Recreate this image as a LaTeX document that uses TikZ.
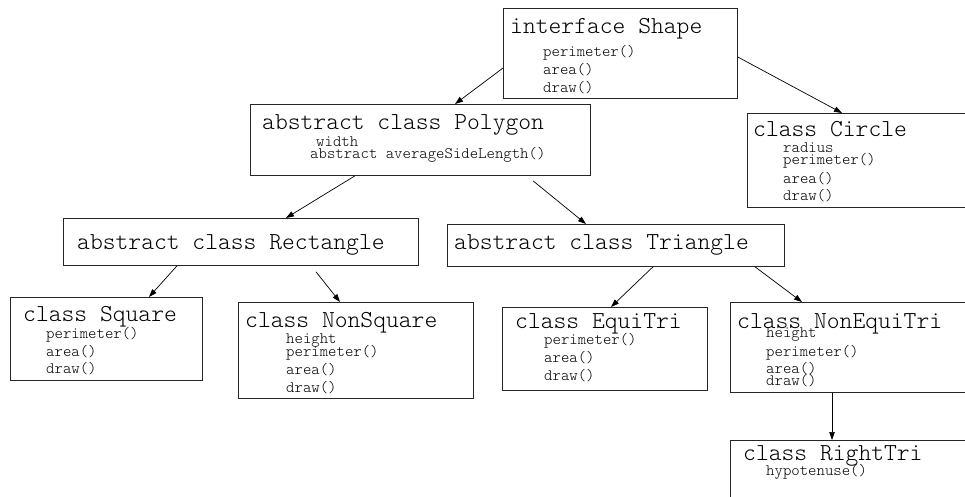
\documentclass[tikz,border=0pt]{standalone}
\usetikzlibrary{arrows.meta}
\begin{document}
\begin{tikzpicture}[x=1pt,y=-1pt,
  box/.style={draw=black!85, line width=0.8pt, rectangle, inner sep=0pt, anchor=north west},
  ttl/.style={inner sep=0pt, anchor=base west, font=\ttfamily\fontseries{l}\fontsize{24.4}{26}\selectfont},
  mth/.style={inner sep=0pt, anchor=base west, font=\ttfamily\fontseries{l}\fontsize{16}{18}\selectfont},
  arr/.style={draw=black, line width=0.7pt, -{Triangle[length=8pt,width=5.5pt]}}]
\clip (0,0) rectangle (965,496);
\fill[white] (0,0) rectangle (965,496);
% boxes
\node[box, minimum width=234pt, minimum height=90pt] (shape) at (503,8) {};
\node[box, minimum width=340pt, minimum height=71pt] (poly) at (250,104) {};
\node[box, minimum width=240pt, minimum height=94pt] (circle) at (747,113) {};
\node[box, minimum width=355pt, minimum height=47pt] (rect) at (63,218) {};
\node[box, minimum width=337pt, minimum height=42pt] (tri) at (447,224) {};
\node[box, minimum width=192pt, minimum height=83pt] (square) at (10,297) {};
\node[box, minimum width=235pt, minimum height=96pt] (nonsq) at (238,302) {};
\node[box, minimum width=205pt, minimum height=83pt] (equi) at (502,307) {};
\node[box, minimum width=250pt, minimum height=90pt] (nonequi) at (730,302) {};
\node[box, minimum width=250pt, minimum height=80pt] (right) at (730,440) {};
% texts
\node[ttl] (shapeT) at (510,33) {interface Shape};
\node[mth] (shapeA) at (543,56) {perimeter()};
\node[mth] (shapeB) at (543,74) {area()};
\node[mth] (shapeC) at (543,92) {draw()};
\node[ttl] (polyT) at (262,129) {abstract class Polygon};
\node[mth] (polyA) at (316,146) {width};
\node[mth] (polyB) at (310,158) {abstract averageSideLength()};
\node[ttl] (circleT) at (753,136) {class Circle};
\node[mth] (circleA) at (783,152) {radius};
\node[mth] (circleB) at (783,164) {perimeter()};
\node[mth] (circleC) at (783,183) {area()};
\node[mth] (circleD) at (783,200) {draw()};
\node[ttl] (rectT) at (77,249) {abstract class Rectangle};
\node[ttl] (triT) at (454,249) {abstract class Triangle};
\node[ttl] (squareT) at (23,321) {class Square};
\node[mth] (squareA) at (46,338) {perimeter()};
\node[mth] (squareB) at (46,356) {area()};
\node[mth] (squareC) at (46,373) {draw()};
\node[ttl] (nonsqT) at (245,327) {class NonSquare};
\node[mth] (nonsqA) at (286,343) {height};
\node[mth] (nonsqB) at (286,356) {perimeter()};
\node[mth] (nonsqC) at (286,374) {area()};
\node[mth] (nonsqD) at (286,392) {draw()};
\node[ttl] (equiT) at (515,328) {class EquiTri};
\node[mth] (equiA) at (544,344) {perimeter()};
\node[mth] (equiB) at (544,362) {area()};
\node[mth] (equiC) at (544,380) {draw()};
\node[ttl] (nonequiT) at (737,328) {class NonEquiTri};
\node[mth] (nonequiA) at (766,337) {height};
\node[mth] (nonequiB) at (766,356) {perimeter()};
\node[mth] (nonequiC) at (766,373) {area()};
\node[mth] (nonequiD) at (766,385) {draw()};
\node[ttl] (rightT) at (743,460) {class RightTri};
\node[mth] (rightA) at (766,475) {hypotenuse()};
% connectors
\draw[arr] ([yshift=-60pt]shape.north west) -- ([xshift=205pt]poly.north west);
\draw[arr] ([yshift=-49pt]shape.north east) -- ([xshift=95pt]circle.north west);
\draw[arr] ([xshift=105pt]poly.south west) -- ([xshift=223pt]rect.north west);
\draw[arr] ([xshift=283pt,yshift=-5pt]poly.south west) -- ([xshift=139pt]tri.north west);
\draw[arr] ([xshift=114pt]rect.south west) -- ([xshift=139pt]square.north west);
\draw[arr] ([xshift=253pt,yshift=-6pt]rect.south west) -- ([xshift=102pt]nonsq.north west);
\draw[arr] ([xshift=206pt]tri.south west) -- ([xshift=109pt]equi.north west);
\draw[arr] ([xshift=308pt]tri.south west) -- ([xshift=72pt]nonequi.north west);
\draw[arr] ([xshift=102pt]nonequi.south west) -- ([xshift=102pt]right.north west);
\end{tikzpicture}
\end{document}
